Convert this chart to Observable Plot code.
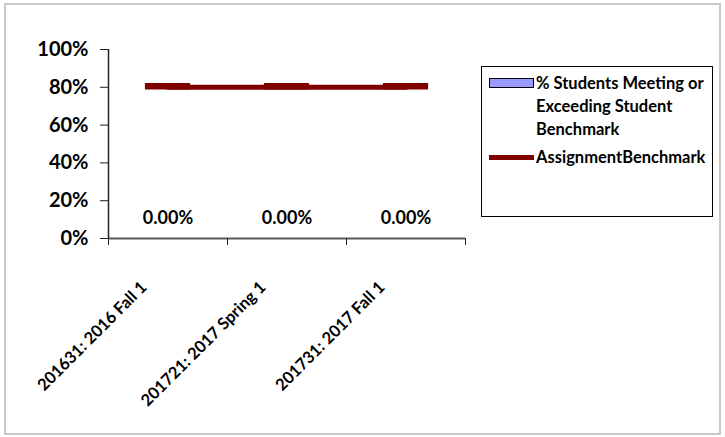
<!DOCTYPE html>
<html>
<head>
<meta charset="utf-8">
<script src="https://cdn.jsdelivr.net/npm/d3@7"></script>
<script src="https://cdn.jsdelivr.net/npm/@observablehq/plot@0.6"></script>
<style>
  html, body { margin: 0; padding: 0; background: #fff; }
  #wrap { position: relative; width: 725px; height: 437px; overflow: hidden; font-family: Lato, "Open Sans", sans-serif; }
  #frame { position: absolute; left: 4px; top: 3px; width: 713px; height: 428px; border: 2px solid #c8c8c8; box-sizing: content-box; pointer-events: none; }
  #chart { position: absolute; left: 0; top: 0; }
  #legend { position: absolute; left: 481px; top: 66px; width: 230px; height: 149px; border: 1px solid #000; background: #fff; font-weight: bold; font-size: 16.5px; color: #000; }
  .sw-bar { position: absolute; left: 7px; width: 43px; height: 8px; background: #9999ff; border: 1px solid #000; }
  .sw-line { position: absolute; left: 7px; width: 45px; height: 5px; background: #800000; }
  .lab { position: absolute; left: 54px; line-height: 23px; white-space: nowrap; }
</style>
</head>
<body>
<div id="wrap">
  <div id="chart"></div>
  <div id="frame"></div>
  <div id="legend"></div>
</div>
<script>
const categories = ["201631: 2016 Fall 1", "201721: 2017 Spring 1", "201731: 2017 Fall 1"];
const pctMeeting = [0, 0, 0];
const benchmark = [80, 80, 80];
const yTicks = [0, 20, 40, 60, 80, 100];
const seriesNames = ["% Students Meeting or Exceeding Student Benchmark", "AssignmentBenchmark"];

const rows = categories.map((c, i) => ({cat: c, i, pct: pctMeeting[i], bench: benchmark[i]}));
const fontStack = "Lato, 'Open Sans', sans-serif";

const chart = Plot.plot({
  width: 725,
  height: 437,
  marginTop: 49,
  marginBottom: 199,
  marginLeft: 108,
  marginRight: 260,
  style: {fontFamily: fontStack, color: "#000", background: "transparent", overflow: "visible"},
  x: {type: "linear", domain: [0, categories.length]},
  y: {domain: [0, 100]},
  marks: [
    Plot.rectY(rows, {x1: d => d.i + 0.2, x2: d => d.i + 0.8, y1: 0, y2: "pct", fill: "#9999ff"}),
    Plot.ruleY([0], {stroke: "#5a5a5a", strokeWidth: 2}),
    Plot.ruleX([0], {stroke: "#222", strokeWidth: 1.5}),
    Plot.axisY({ticks: yTicks, tickSize: 8, tickPadding: 12, tickFormat: d => d + "%", fontSize: 20, fontWeight: "bold", stroke: "#222"}),
    Plot.axisX({ticks: d3.range(categories.length + 1), tickSize: 7, tickFormat: () => "", stroke: "#222"}),
    Plot.axisX({ticks: categories.map((c, i) => i + 0.5), tickSize: 0, tickRotate: -45, tickPadding: 46, dx: -24,
      tickFormat: v => categories[Math.round(v - 0.5)], fontSize: 16.5, fontWeight: "bold"}),
    Plot.lineY(rows, {x: d => d.i + 0.5, y: "bench", stroke: "#800000", strokeWidth: 5}),
    Plot.ruleY(rows, {x1: d => d.i + 0.31, x2: d => d.i + 0.69, y: "bench", stroke: "#800000", strokeWidth: 6.5, dy: -1}),
    Plot.text(rows, {x: d => d.i + 0.5, y: "pct", text: d => d.pct.toFixed(2) + "%", dy: -20, fontSize: 18, fontWeight: "bold", fill: "#000"})
  ]
});
document.getElementById("chart").appendChild(chart);

const legend = document.getElementById("legend");
legend.innerHTML = `
  <div class="sw-bar" style="top:11px"></div>
  <div class="lab" style="top:5px">% Students Meeting or<br>Exceeding Student<br>Benchmark</div>
  <div class="sw-line" style="top:88px"></div>
  <div class="lab" style="top:79px">AssignmentBenchmark</div>
`;
</script>
</body>
</html>
